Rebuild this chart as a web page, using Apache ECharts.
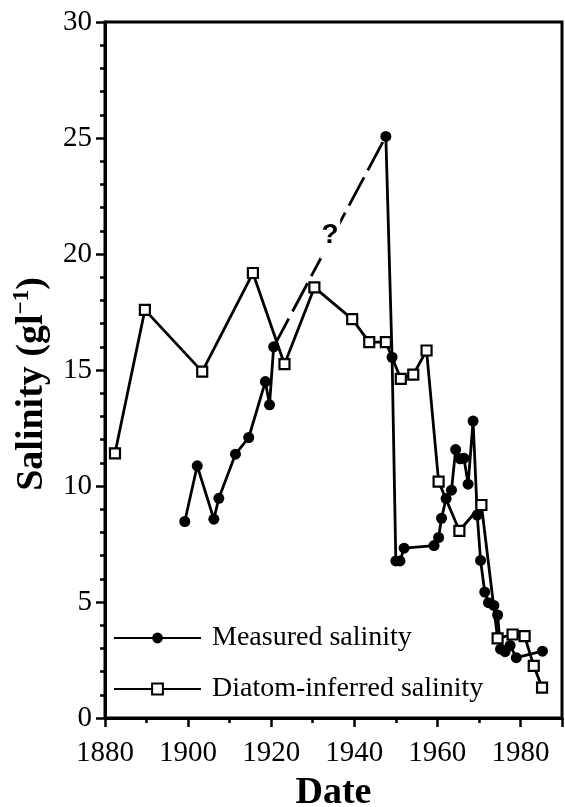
<!DOCTYPE html>
<html><head><meta charset="utf-8">
<script src="https://cdn.jsdelivr.net/npm/echarts@6/dist/echarts.min.js"></script>
<style>html,body{margin:0;padding:0;background:#fff}#c{width:565px;height:807px}</style>
</head><body><div id="c"></div>
<script>
// ---- data ----
const measuredEarlyYears  = [1899.2, 1902.2, 1906.2, 1907.4, 1911.4, 1914.6, 1918.6, 1919.6, 1920.6];
const measuredEarlyValues = [8.47, 10.87, 8.57, 9.47, 11.37, 12.09, 14.5, 13.5, 16.0];
const measuredLateYears  = [1947.6, 1949.1, 1950.0, 1951.0, 1952.0, 1959.2, 1960.3, 1961.0, 1962.1, 1963.4, 1964.4, 1965.5, 1966.4, 1967.4, 1968.6, 1969.6, 1970.4, 1971.4, 1972.3, 1973.6, 1974.5, 1975.2, 1976.3, 1977.5, 1979.0, 1985.3];
const measuredLateValues = [25.07, 15.55, 6.77, 6.77, 7.32, 7.43, 7.78, 8.61, 9.46, 9.82, 11.57, 11.17, 11.2, 10.08, 12.8, 8.75, 6.79, 5.43, 4.97, 4.85, 4.44, 2.97, 2.86, 3.13, 2.6, 2.88];
const diatomYears  = [1882.4, 1889.6, 1903.4, 1915.6, 1923.2, 1930.4, 1939.5, 1943.6, 1947.6, 1951.2, 1954.2, 1957.4, 1960.3, 1965.3, 1970.6, 1974.5, 1978.1, 1981.0, 1983.2, 1985.2];
const diatomValues = [11.41, 17.59, 14.93, 19.18, 15.25, 18.56, 17.19, 16.2, 16.2, 14.62, 14.8, 15.84, 10.19, 8.07, 9.18, 3.43, 3.6, 3.53, 2.25, 1.31];
const questionMark = [1934.2, 20.8];
const xRange = [1880, 1990];
const yRange = [0, 30];
const seriesNames = ['Measured salinity', 'Diatom-inferred salinity'];
const xTitle = 'Date';

// ---- build ----
const zip = (a, b) => a.map((v, i) => [v, b[i]]);
const measuredData = zip(measuredEarlyYears, measuredEarlyValues).concat(['-'], zip(measuredLateYears, measuredLateValues));
const gapData = [
  [measuredEarlyYears[measuredEarlyYears.length - 1], measuredEarlyValues[measuredEarlyValues.length - 1]],
  [measuredLateYears[0], measuredLateValues[0]]
];
const diatomData = zip(diatomYears, diatomValues);

const serif = 'Liberation Serif, Times New Roman, serif';
const chart = echarts.init(document.getElementById('c'), null, {renderer: 'canvas'});
chart.setOption({
  backgroundColor: '#fff',
  animation: false,
  grid: {left: 105, right: 3, top: 22, bottom: 89, show: true, borderColor: '#000', borderWidth: 3, containLabel: false, outerBoundsMode: 'none'},
  xAxis: {
    type: 'value', min: xRange[0], max: xRange[1], interval: 20,
    axisLine: {show: true, lineStyle: {color: '#000', width: 3}},
    axisTick: {show: true, length: 9, lineStyle: {color: '#000', width: 2.5}},
    minorTick: {show: true, splitNumber: 2, length: 5, lineStyle: {color: '#000', width: 2.5}},
    splitLine: {show: false}, minorSplitLine: {show: false},
    axisLabel: {show: true, showMaxLabel: false, color: '#000', fontFamily: serif, fontSize: 29, margin: 21, formatter: v => String(v)},
    name: xTitle, nameLocation: 'middle', nameGap: 56,
    nameTextStyle: {fontFamily: serif, fontWeight: 'bold', fontSize: 38, color: '#000'}
  },
  yAxis: {
    type: 'value', min: yRange[0], max: yRange[1], interval: 5,
    axisLine: {show: true, lineStyle: {color: '#000', width: 3}},
    axisTick: {show: true, length: 9, lineStyle: {color: '#000', width: 2.5}},
    minorTick: {show: true, splitNumber: 5, length: 5, lineStyle: {color: '#000', width: 2.5}},
    splitLine: {show: false}, minorSplitLine: {show: false},
    axisLabel: {show: true, color: '#000', fontFamily: serif, fontSize: 29, margin: 13}
  },
  legend: {
    show: true, orient: 'vertical', left: 113, top: 624, padding: 0,
    data: seriesNames,
    itemWidth: 87, itemHeight: 13.5, itemGap: 23,
    textStyle: {fontFamily: serif, fontSize: 28, color: '#000', lineHeight: 28, padding: [0, 0, 0, 6]}
  },
  graphic: [{
    type: 'text', x: 31, y: 384, rotation: Math.PI / 2,
    style: {
      text: '{a|Salinity (gl}{s|−1}{a|)}',
      align: 'center', verticalAlign: 'middle',
      rich: {
        a: {fontFamily: serif, fontWeight: 'bold', fontSize: 38, fill: '#000', lineHeight: 40, verticalAlign: 'bottom'},
        s: {fontFamily: serif, fontWeight: 'bold', fontSize: 23, fill: '#000', lineHeight: 40, verticalAlign: 'top'}
      }
    }
  }],
  series: [
    {
      name: 'gap', type: 'line', data: gapData, z: 1, silent: true,
      symbol: 'none', lineStyle: {color: '#000', width: 2.8, type: [32, 8]},
      markPoint: {
        symbol: 'rect', symbolSize: [20, 46], silent: true,
        itemStyle: {color: '#fff'},
        label: {show: true, position: 'inside', formatter: '?', fontFamily: 'Liberation Sans, Arial, sans-serif', fontWeight: 'bold', fontSize: 28, color: '#000'},
        data: [{coord: questionMark}]
      }
    },
    {
      name: seriesNames[1], type: 'line', data: diatomData, z: 3,
      symbol: 'rect', symbolSize: 10, showAllSymbol: true,
      lineStyle: {color: '#000', width: 2.8},
      itemStyle: {color: '#fff', borderColor: '#000', borderWidth: 2.2}
    },
    {
      name: seriesNames[0], type: 'line', data: measuredData, z: 2, connectNulls: false,
      symbol: 'circle', symbolSize: 11, showAllSymbol: true,
      lineStyle: {color: '#000', width: 2.8},
      itemStyle: {color: '#000', borderColor: '#000', borderWidth: 0}
    }
  ]
});
</script></body></html>
